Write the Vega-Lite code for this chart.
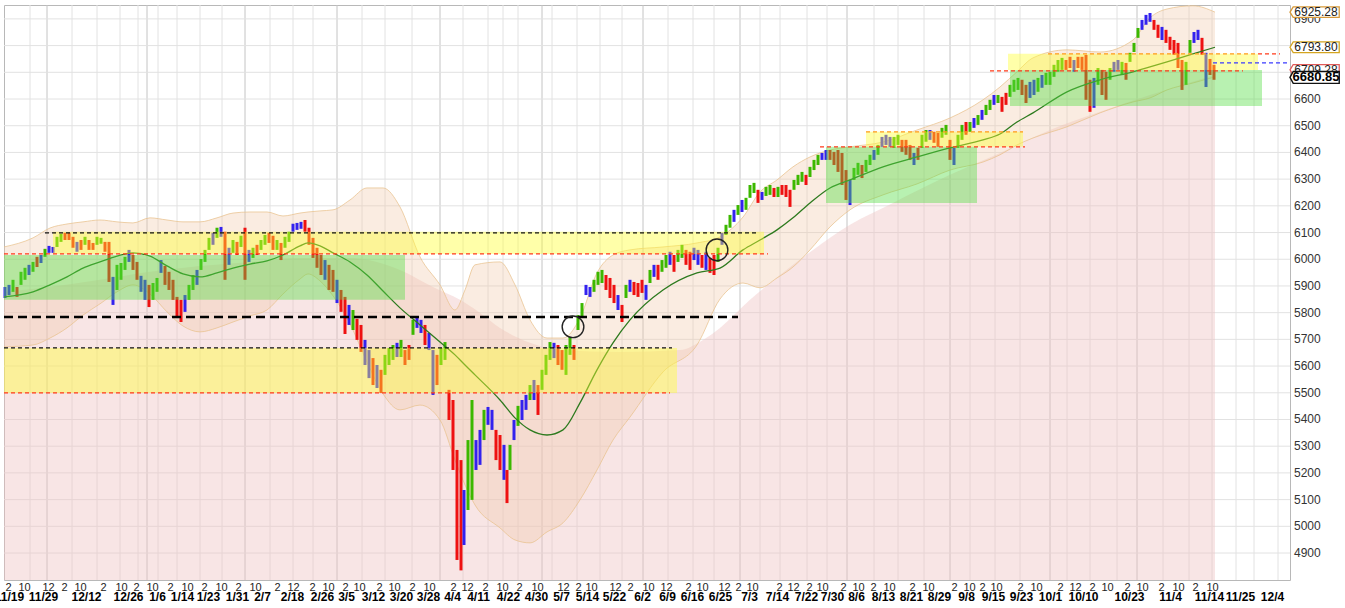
{
  "$schema": "https://vega.github.io/schema/vega-lite/v6.json",
  "width": 1286,
  "height": 575,
  "autosize": {"type": "none"},
  "padding": {"left": 4, "top": 5, "right": 55, "bottom": 28},
  "background": "white",
  "datasets": {
    "grid": [
      {"bar": 30, "m": false}, {"bar": 47, "m": true}, {"bar": 72, "m": false}, {"bar": 97, "m": false},
      {"bar": 120, "m": false}, {"bar": 138, "m": false}, {"bar": 147, "m": true}, {"bar": 158, "m": false},
      {"bar": 177, "m": false}, {"bar": 200, "m": false}, {"bar": 222, "m": false}, {"bar": 245, "m": true},
      {"bar": 270, "m": false}, {"bar": 293, "m": false}, {"bar": 313, "m": false}, {"bar": 337, "m": true},
      {"bar": 362, "m": false}, {"bar": 385, "m": false}, {"bar": 412, "m": false}, {"bar": 440, "m": true},
      {"bar": 463, "m": false}, {"bar": 488, "m": false}, {"bar": 503, "m": false}, {"bar": 518, "m": false},
      {"bar": 542, "m": true}, {"bar": 552, "m": false}, {"bar": 577, "m": false}, {"bar": 600, "m": false},
      {"bar": 622, "m": false}, {"bar": 643, "m": true}, {"bar": 668, "m": false}, {"bar": 693, "m": false},
      {"bar": 714, "m": false}, {"bar": 740, "m": true}, {"bar": 760, "m": false}, {"bar": 780, "m": false},
      {"bar": 807, "m": false}, {"bar": 827, "m": false}, {"bar": 847, "m": true}, {"bar": 874, "m": false},
      {"bar": 898, "m": false}, {"bar": 924, "m": false}, {"bar": 950, "m": true}, {"bar": 970, "m": false},
      {"bar": 995, "m": false}, {"bar": 1020, "m": false}, {"bar": 1050, "m": true}, {"bar": 1067, "m": false},
      {"bar": 1090, "m": false}, {"bar": 1117, "m": false}, {"bar": 1137, "m": true}, {"bar": 1163, "m": false},
      {"bar": 1189, "m": false}, {"bar": 1212, "m": false}, {"bar": 1236, "m": false}, {"bar": 1254, "m": false},
      {"bar": 1278, "m": false}
    ],
    "yticks": [
      {"tick": 4900}, {"tick": 5000}, {"tick": 5100}, {"tick": 5200}, {"tick": 5300}, {"tick": 5400}, {"tick": 5500},
      {"tick": 5600}, {"tick": 5700}, {"tick": 5800}, {"tick": 5900}, {"tick": 6000}, {"tick": 6100}, {"tick": 6200},
      {"tick": 6300}, {"tick": 6400}, {"tick": 6500}, {"tick": 6600}, {"tick": 6700}, {"tick": 6800}, {"tick": 6900}
    ],
    "pink": [
      {"bar": 4, "top": 5878}, {"bar": 50, "top": 5896}, {"bar": 100, "top": 5923}, {"bar": 150, "top": 5953},
      {"bar": 200, "top": 5975}, {"bar": 250, "top": 5990}, {"bar": 300, "top": 6005}, {"bar": 350, "top": 6005},
      {"bar": 400, "top": 5960}, {"bar": 433, "top": 5896}, {"bar": 460, "top": 5848}, {"bar": 480, "top": 5799},
      {"bar": 500, "top": 5743}, {"bar": 530, "top": 5687}, {"bar": 560, "top": 5660}, {"bar": 620, "top": 5653},
      {"bar": 680, "top": 5660}, {"bar": 703, "top": 5698}, {"bar": 720, "top": 5743}, {"bar": 750, "top": 5848},
      {"bar": 780, "top": 5941}, {"bar": 813, "top": 6035}, {"bar": 850, "top": 6129}, {"bar": 893, "top": 6211},
      {"bar": 950, "top": 6316}, {"bar": 1000, "top": 6398}, {"bar": 1050, "top": 6484}, {"bar": 1100, "top": 6552},
      {"bar": 1150, "top": 6615}, {"bar": 1215, "top": 6690}
    ],
    "band": [
      {"bar": 4, "upper": 6046, "ma": 5859, "lower": 5672},
      {"bar": 33, "upper": 6080, "ma": 5878, "lower": 5679},
      {"bar": 50, "upper": 6117, "ma": 5904, "lower": 5705},
      {"bar": 67, "upper": 6132, "ma": 5934, "lower": 5743},
      {"bar": 83, "upper": 6140, "ma": 5967, "lower": 5791},
      {"bar": 100, "upper": 6147, "ma": 5990, "lower": 5833},
      {"bar": 117, "upper": 6140, "ma": 6012, "lower": 5878},
      {"bar": 133, "upper": 6136, "ma": 6024, "lower": 5904},
      {"bar": 150, "upper": 6155, "ma": 6012, "lower": 5870},
      {"bar": 167, "upper": 6147, "ma": 5975, "lower": 5803},
      {"bar": 183, "upper": 6140, "ma": 5945, "lower": 5750},
      {"bar": 200, "upper": 6140, "ma": 5934, "lower": 5728},
      {"bar": 217, "upper": 6155, "ma": 5949, "lower": 5743},
      {"bar": 233, "upper": 6173, "ma": 5967, "lower": 5765},
      {"bar": 250, "upper": 6177, "ma": 5982, "lower": 5788},
      {"bar": 267, "upper": 6177, "ma": 5994, "lower": 5810},
      {"bar": 283, "upper": 6162, "ma": 6016, "lower": 5870},
      {"bar": 300, "upper": 6173, "ma": 6050, "lower": 5926},
      {"bar": 308, "upper": 6177, "ma": 6061, "lower": 5945},
      {"bar": 320, "upper": 6181, "ma": 6050, "lower": 5919},
      {"bar": 333, "upper": 6185, "ma": 6024, "lower": 5863},
      {"bar": 350, "upper": 6222, "ma": 5990, "lower": 5758},
      {"bar": 367, "upper": 6267, "ma": 5941, "lower": 5615},
      {"bar": 383, "upper": 6267, "ma": 5881, "lower": 5496},
      {"bar": 400, "upper": 6196, "ma": 5818, "lower": 5436},
      {"bar": 420, "upper": 6009, "ma": 5754, "lower": 5454},
      {"bar": 440, "upper": 5904, "ma": 5690, "lower": 5398},
      {"bar": 455, "upper": 5810, "ma": 5642, "lower": 5248},
      {"bar": 465, "upper": 5885, "ma": 5604, "lower": 5155},
      {"bar": 475, "upper": 5979, "ma": 5567, "lower": 5080},
      {"bar": 500, "upper": 5990, "ma": 5473, "lower": 4994},
      {"bar": 515, "upper": 5904, "ma": 5406, "lower": 4949},
      {"bar": 530, "upper": 5773, "ma": 5361, "lower": 4938},
      {"bar": 547, "upper": 5705, "ma": 5342, "lower": 4979},
      {"bar": 563, "upper": 5705, "ma": 5361, "lower": 5013},
      {"bar": 580, "upper": 5780, "ma": 5462, "lower": 5099},
      {"bar": 597, "upper": 5949, "ma": 5586, "lower": 5211},
      {"bar": 613, "upper": 6016, "ma": 5687, "lower": 5323},
      {"bar": 630, "upper": 6035, "ma": 5773, "lower": 5409},
      {"bar": 663, "upper": 6046, "ma": 5885, "lower": 5578},
      {"bar": 697, "upper": 6061, "ma": 5949, "lower": 5679},
      {"bar": 720, "upper": 6084, "ma": 5967, "lower": 5851},
      {"bar": 743, "upper": 6158, "ma": 6035, "lower": 5911},
      {"bar": 760, "upper": 6252, "ma": 6072, "lower": 5893},
      {"bar": 777, "upper": 6297, "ma": 6110, "lower": 5930},
      {"bar": 793, "upper": 6346, "ma": 6155, "lower": 5971},
      {"bar": 810, "upper": 6383, "ma": 6211, "lower": 6035},
      {"bar": 830, "upper": 6409, "ma": 6267, "lower": 6121},
      {"bar": 850, "upper": 6421, "ma": 6297, "lower": 6185},
      {"bar": 883, "upper": 6439, "ma": 6346, "lower": 6241},
      {"bar": 917, "upper": 6484, "ma": 6383, "lower": 6282},
      {"bar": 950, "upper": 6529, "ma": 6417, "lower": 6334},
      {"bar": 983, "upper": 6597, "ma": 6447, "lower": 6364},
      {"bar": 1000, "upper": 6645, "ma": 6469, "lower": 6391},
      {"bar": 1017, "upper": 6702, "ma": 6514, "lower": 6428},
      {"bar": 1033, "upper": 6754, "ma": 6548, "lower": 6454},
      {"bar": 1067, "upper": 6784, "ma": 6627, "lower": 6496},
      {"bar": 1100, "upper": 6776, "ma": 6672, "lower": 6548},
      {"bar": 1133, "upper": 6821, "ma": 6702, "lower": 6589},
      {"bar": 1150, "upper": 6904, "ma": 6720, "lower": 6604},
      {"bar": 1167, "upper": 6937, "ma": 6739, "lower": 6634},
      {"bar": 1193, "upper": 6949, "ma": 6769, "lower": 6660},
      {"bar": 1215, "upper": 6925.28, "ma": 6793.8, "lower": 6683}
    ],
    "bars": [
      {"bar": 5, "hi": 5896, "lo": 5855, "c": "b"}, {"bar": 9, "hi": 5904, "lo": 5866, "c": "b"},
      {"bar": 13, "hi": 5923, "lo": 5878, "c": "g"}, {"bar": 17, "hi": 5896, "lo": 5859, "c": "r"},
      {"bar": 21, "hi": 5953, "lo": 5904, "c": "g"}, {"bar": 25, "hi": 5968, "lo": 5923, "c": "g"},
      {"bar": 29, "hi": 5979, "lo": 5941, "c": "b"}, {"bar": 33, "hi": 5990, "lo": 5953, "c": "g"},
      {"bar": 37, "hi": 6009, "lo": 5971, "c": "r"}, {"bar": 41, "hi": 6016, "lo": 5986, "c": "b"},
      {"bar": 45, "hi": 6039, "lo": 6009, "c": "g"}, {"bar": 49, "hi": 6050, "lo": 6024, "c": "b"},
      {"bar": 53, "hi": 6046, "lo": 6024, "c": "b"}, {"bar": 57, "hi": 6084, "lo": 6046, "c": "g"},
      {"bar": 61, "hi": 6095, "lo": 6065, "c": "g"}, {"bar": 65, "hi": 6099, "lo": 6072, "c": "r"},
      {"bar": 69, "hi": 6099, "lo": 6072, "c": "r"}, {"bar": 73, "hi": 6084, "lo": 6043, "c": "r"},
      {"bar": 77, "hi": 6065, "lo": 6028, "c": "b"}, {"bar": 81, "hi": 6072, "lo": 6035, "c": "r"},
      {"bar": 85, "hi": 6084, "lo": 6054, "c": "g"}, {"bar": 89, "hi": 6072, "lo": 6035, "c": "r"},
      {"bar": 93, "hi": 6061, "lo": 6035, "c": "r"}, {"bar": 97, "hi": 6084, "lo": 6054, "c": "g"},
      {"bar": 101, "hi": 6080, "lo": 6058, "c": "g"}, {"bar": 105, "hi": 6065, "lo": 6028, "c": "r"},
      {"bar": 109, "hi": 6065, "lo": 5915, "c": "r"}, {"bar": 113, "hi": 5934, "lo": 5829, "c": "b"},
      {"bar": 117, "hi": 5979, "lo": 5885, "c": "g"}, {"bar": 121, "hi": 5986, "lo": 5923, "c": "g"},
      {"bar": 125, "hi": 6009, "lo": 5960, "c": "g"}, {"bar": 129, "hi": 6035, "lo": 5990, "c": "b"},
      {"bar": 133, "hi": 6016, "lo": 5960, "c": "r"}, {"bar": 137, "hi": 5990, "lo": 5923, "c": "r"},
      {"bar": 141, "hi": 5938, "lo": 5878, "c": "b"}, {"bar": 145, "hi": 5923, "lo": 5848, "c": "b"},
      {"bar": 149, "hi": 5904, "lo": 5821, "c": "r"}, {"bar": 153, "hi": 5911, "lo": 5848, "c": "g"},
      {"bar": 157, "hi": 5930, "lo": 5878, "c": "g"}, {"bar": 161, "hi": 5997, "lo": 5949, "c": "b"},
      {"bar": 165, "hi": 5975, "lo": 5904, "c": "r"}, {"bar": 169, "hi": 5953, "lo": 5885, "c": "r"},
      {"bar": 173, "hi": 5923, "lo": 5848, "c": "r"}, {"bar": 177, "hi": 5859, "lo": 5780, "c": "r"},
      {"bar": 181, "hi": 5848, "lo": 5765, "c": "r"}, {"bar": 185, "hi": 5866, "lo": 5803, "c": "b"},
      {"bar": 189, "hi": 5904, "lo": 5848, "c": "g"}, {"bar": 193, "hi": 5941, "lo": 5885, "c": "g"},
      {"bar": 197, "hi": 5960, "lo": 5904, "c": "b"}, {"bar": 201, "hi": 6001, "lo": 5960, "c": "g"},
      {"bar": 205, "hi": 6035, "lo": 5990, "c": "g"}, {"bar": 209, "hi": 6080, "lo": 6035, "c": "g"},
      {"bar": 213, "hi": 6099, "lo": 6054, "c": "b"}, {"bar": 217, "hi": 6118, "lo": 6080, "c": "g"},
      {"bar": 221, "hi": 6121, "lo": 6084, "c": "b"}, {"bar": 225, "hi": 6103, "lo": 5923, "c": "r"},
      {"bar": 229, "hi": 6043, "lo": 5979, "c": "b"}, {"bar": 233, "hi": 6072, "lo": 6024, "c": "g"},
      {"bar": 237, "hi": 6065, "lo": 6016, "c": "r"}, {"bar": 241, "hi": 6088, "lo": 6046, "c": "g"},
      {"bar": 245, "hi": 6118, "lo": 5923, "c": "r"}, {"bar": 249, "hi": 6035, "lo": 5990, "c": "b"},
      {"bar": 253, "hi": 6043, "lo": 6005, "c": "g"}, {"bar": 257, "hi": 6054, "lo": 6016, "c": "r"},
      {"bar": 261, "hi": 6072, "lo": 6035, "c": "g"}, {"bar": 265, "hi": 6091, "lo": 6054, "c": "g"},
      {"bar": 269, "hi": 6099, "lo": 6061, "c": "r"}, {"bar": 273, "hi": 6088, "lo": 6035, "c": "r"},
      {"bar": 277, "hi": 6072, "lo": 6035, "c": "g"}, {"bar": 281, "hi": 6061, "lo": 5997, "c": "r"},
      {"bar": 285, "hi": 6084, "lo": 6043, "c": "g"}, {"bar": 289, "hi": 6103, "lo": 6065, "c": "g"},
      {"bar": 293, "hi": 6133, "lo": 6103, "c": "b"}, {"bar": 297, "hi": 6136, "lo": 6110, "c": "b"},
      {"bar": 301, "hi": 6140, "lo": 6114, "c": "b"}, {"bar": 305, "hi": 6147, "lo": 6103, "c": "r"},
      {"bar": 309, "hi": 6118, "lo": 6054, "c": "r"}, {"bar": 313, "hi": 6080, "lo": 6005, "c": "r"},
      {"bar": 317, "hi": 6043, "lo": 5968, "c": "r"}, {"bar": 321, "hi": 6016, "lo": 5941, "c": "r"},
      {"bar": 325, "hi": 5997, "lo": 5923, "c": "b"}, {"bar": 329, "hi": 5979, "lo": 5885, "c": "r"},
      {"bar": 333, "hi": 5960, "lo": 5878, "c": "r"}, {"bar": 337, "hi": 5923, "lo": 5836, "c": "b"},
      {"bar": 341, "hi": 5885, "lo": 5803, "c": "r"}, {"bar": 345, "hi": 5859, "lo": 5720, "c": "r"},
      {"bar": 349, "hi": 5829, "lo": 5754, "c": "b"}, {"bar": 353, "hi": 5810, "lo": 5735, "c": "g"},
      {"bar": 357, "hi": 5777, "lo": 5698, "c": "r"}, {"bar": 361, "hi": 5754, "lo": 5653, "c": "r"},
      {"bar": 365, "hi": 5698, "lo": 5604, "c": "b"}, {"bar": 369, "hi": 5660, "lo": 5555, "c": "b"},
      {"bar": 373, "hi": 5630, "lo": 5529, "c": "r"}, {"bar": 377, "hi": 5604, "lo": 5518, "c": "b"},
      {"bar": 381, "hi": 5586, "lo": 5499, "c": "r"}, {"bar": 385, "hi": 5642, "lo": 5567, "c": "g"},
      {"bar": 389, "hi": 5668, "lo": 5604, "c": "g"}, {"bar": 393, "hi": 5679, "lo": 5623, "c": "g"},
      {"bar": 397, "hi": 5687, "lo": 5634, "c": "b"}, {"bar": 401, "hi": 5698, "lo": 5634, "c": "g"},
      {"bar": 405, "hi": 5660, "lo": 5604, "c": "r"}, {"bar": 409, "hi": 5679, "lo": 5623, "c": "r"},
      {"bar": 413, "hi": 5773, "lo": 5717, "c": "g"}, {"bar": 417, "hi": 5784, "lo": 5743, "c": "b"},
      {"bar": 421, "hi": 5773, "lo": 5724, "c": "b"}, {"bar": 425, "hi": 5754, "lo": 5679, "c": "r"},
      {"bar": 429, "hi": 5724, "lo": 5660, "c": "b"}, {"bar": 433, "hi": 5660, "lo": 5492, "c": "b"},
      {"bar": 437, "hi": 5642, "lo": 5529, "c": "r"}, {"bar": 441, "hi": 5668, "lo": 5604, "c": "g"},
      {"bar": 445, "hi": 5690, "lo": 5623, "c": "g"}, {"bar": 449, "hi": 5511, "lo": 5398, "c": "r"},
      {"bar": 453, "hi": 5473, "lo": 5211, "c": "r"}, {"bar": 457, "hi": 5286, "lo": 4874, "c": "r"},
      {"bar": 461, "hi": 5248, "lo": 4835, "c": "r"}, {"bar": 464, "hi": 5136, "lo": 4930, "c": "b"},
      {"bar": 468, "hi": 5323, "lo": 5061, "c": "g"}, {"bar": 472, "hi": 5473, "lo": 5099, "c": "g"},
      {"bar": 476, "hi": 5323, "lo": 5211, "c": "b"}, {"bar": 480, "hi": 5361, "lo": 5230, "c": "b"},
      {"bar": 484, "hi": 5436, "lo": 5323, "c": "g"}, {"bar": 488, "hi": 5447, "lo": 5380, "c": "b"},
      {"bar": 492, "hi": 5436, "lo": 5361, "c": "b"}, {"bar": 496, "hi": 5361, "lo": 5248, "c": "r"},
      {"bar": 500, "hi": 5342, "lo": 5211, "c": "r"}, {"bar": 504, "hi": 5305, "lo": 5174, "c": "b"},
      {"bar": 507, "hi": 5211, "lo": 5087, "c": "r"}, {"bar": 510, "hi": 5305, "lo": 5211, "c": "g"},
      {"bar": 514, "hi": 5398, "lo": 5323, "c": "b"}, {"bar": 518, "hi": 5451, "lo": 5376, "c": "g"},
      {"bar": 522, "hi": 5473, "lo": 5398, "c": "b"}, {"bar": 526, "hi": 5492, "lo": 5436, "c": "b"},
      {"bar": 530, "hi": 5529, "lo": 5473, "c": "g"}, {"bar": 534, "hi": 5548, "lo": 5473, "c": "b"},
      {"bar": 538, "hi": 5529, "lo": 5417, "c": "r"}, {"bar": 542, "hi": 5586, "lo": 5511, "c": "g"},
      {"bar": 546, "hi": 5642, "lo": 5567, "c": "g"}, {"bar": 550, "hi": 5690, "lo": 5623, "c": "g"},
      {"bar": 554, "hi": 5687, "lo": 5630, "c": "b"}, {"bar": 558, "hi": 5679, "lo": 5604, "c": "r"},
      {"bar": 562, "hi": 5660, "lo": 5586, "c": "r"}, {"bar": 566, "hi": 5679, "lo": 5567, "c": "g"},
      {"bar": 570, "hi": 5709, "lo": 5642, "c": "g"}, {"bar": 574, "hi": 5679, "lo": 5623, "c": "r"},
      {"bar": 578, "hi": 5791, "lo": 5735, "c": "g"}, {"bar": 582, "hi": 5836, "lo": 5780, "c": "g"},
      {"bar": 586, "hi": 5904, "lo": 5866, "c": "b"}, {"bar": 590, "hi": 5896, "lo": 5859, "c": "b"},
      {"bar": 594, "hi": 5923, "lo": 5878, "c": "g"}, {"bar": 598, "hi": 5953, "lo": 5904, "c": "g"},
      {"bar": 602, "hi": 5960, "lo": 5911, "c": "g"}, {"bar": 606, "hi": 5941, "lo": 5885, "c": "r"},
      {"bar": 610, "hi": 5930, "lo": 5855, "c": "r"}, {"bar": 614, "hi": 5904, "lo": 5836, "c": "r"},
      {"bar": 618, "hi": 5866, "lo": 5810, "c": "b"}, {"bar": 622, "hi": 5829, "lo": 5765, "c": "r"},
      {"bar": 626, "hi": 5904, "lo": 5855, "c": "g"}, {"bar": 630, "hi": 5923, "lo": 5878, "c": "b"},
      {"bar": 634, "hi": 5915, "lo": 5866, "c": "r"}, {"bar": 638, "hi": 5911, "lo": 5859, "c": "r"},
      {"bar": 642, "hi": 5923, "lo": 5874, "c": "r"}, {"bar": 646, "hi": 5904, "lo": 5848, "c": "b"},
      {"bar": 650, "hi": 5960, "lo": 5911, "c": "g"}, {"bar": 654, "hi": 5979, "lo": 5934, "c": "b"},
      {"bar": 658, "hi": 5979, "lo": 5923, "c": "r"}, {"bar": 662, "hi": 5997, "lo": 5953, "c": "g"},
      {"bar": 666, "hi": 6016, "lo": 5968, "c": "g"}, {"bar": 670, "hi": 6028, "lo": 5979, "c": "b"},
      {"bar": 674, "hi": 6016, "lo": 5953, "c": "r"}, {"bar": 678, "hi": 6035, "lo": 5990, "c": "g"},
      {"bar": 682, "hi": 6054, "lo": 6005, "c": "g"}, {"bar": 686, "hi": 6035, "lo": 5979, "c": "r"},
      {"bar": 690, "hi": 6028, "lo": 5960, "c": "r"}, {"bar": 694, "hi": 6043, "lo": 5997, "c": "b"},
      {"bar": 698, "hi": 6035, "lo": 5979, "c": "b"}, {"bar": 702, "hi": 6016, "lo": 5968, "c": "r"},
      {"bar": 706, "hi": 6028, "lo": 5960, "c": "b"}, {"bar": 710, "hi": 6005, "lo": 5949, "c": "r"},
      {"bar": 714, "hi": 6016, "lo": 5941, "c": "r"}, {"bar": 718, "hi": 6043, "lo": 5990, "c": "g"},
      {"bar": 722, "hi": 6099, "lo": 6054, "c": "b"}, {"bar": 726, "hi": 6129, "lo": 6091, "c": "g"},
      {"bar": 730, "hi": 6166, "lo": 6118, "c": "g"}, {"bar": 734, "hi": 6185, "lo": 6140, "c": "b"},
      {"bar": 738, "hi": 6203, "lo": 6166, "c": "g"}, {"bar": 742, "hi": 6222, "lo": 6177, "c": "b"},
      {"bar": 746, "hi": 6230, "lo": 6185, "c": "g"}, {"bar": 750, "hi": 6278, "lo": 6230, "c": "g"},
      {"bar": 754, "hi": 6286, "lo": 6248, "c": "g"}, {"bar": 758, "hi": 6260, "lo": 6211, "c": "r"},
      {"bar": 762, "hi": 6252, "lo": 6222, "c": "b"}, {"bar": 766, "hi": 6271, "lo": 6237, "c": "g"},
      {"bar": 770, "hi": 6278, "lo": 6241, "c": "g"}, {"bar": 774, "hi": 6267, "lo": 6233, "c": "r"},
      {"bar": 778, "hi": 6271, "lo": 6233, "c": "g"}, {"bar": 782, "hi": 6278, "lo": 6241, "c": "r"},
      {"bar": 786, "hi": 6278, "lo": 6233, "c": "r"}, {"bar": 790, "hi": 6260, "lo": 6196, "c": "r"},
      {"bar": 794, "hi": 6297, "lo": 6260, "c": "g"}, {"bar": 798, "hi": 6316, "lo": 6278, "c": "g"},
      {"bar": 802, "hi": 6327, "lo": 6290, "c": "g"}, {"bar": 806, "hi": 6316, "lo": 6278, "c": "r"},
      {"bar": 810, "hi": 6346, "lo": 6308, "c": "g"}, {"bar": 814, "hi": 6372, "lo": 6334, "c": "g"},
      {"bar": 818, "hi": 6391, "lo": 6353, "c": "g"}, {"bar": 822, "hi": 6398, "lo": 6372, "c": "b"},
      {"bar": 826, "hi": 6409, "lo": 6372, "c": "b"}, {"bar": 830, "hi": 6409, "lo": 6372, "c": "r"},
      {"bar": 834, "hi": 6402, "lo": 6353, "c": "r"}, {"bar": 838, "hi": 6409, "lo": 6327, "c": "r"},
      {"bar": 842, "hi": 6398, "lo": 6278, "c": "r"}, {"bar": 846, "hi": 6334, "lo": 6222, "c": "r"},
      {"bar": 850, "hi": 6297, "lo": 6203, "c": "b"}, {"bar": 854, "hi": 6342, "lo": 6297, "c": "g"},
      {"bar": 858, "hi": 6361, "lo": 6316, "c": "g"}, {"bar": 862, "hi": 6353, "lo": 6304, "c": "r"},
      {"bar": 866, "hi": 6372, "lo": 6327, "c": "g"}, {"bar": 870, "hi": 6391, "lo": 6353, "c": "g"},
      {"bar": 874, "hi": 6409, "lo": 6372, "c": "b"}, {"bar": 878, "hi": 6428, "lo": 6391, "c": "g"},
      {"bar": 882, "hi": 6458, "lo": 6421, "c": "b"}, {"bar": 886, "hi": 6466, "lo": 6428, "c": "b"},
      {"bar": 890, "hi": 6458, "lo": 6421, "c": "b"}, {"bar": 894, "hi": 6458, "lo": 6417, "c": "g"},
      {"bar": 898, "hi": 6466, "lo": 6428, "c": "g"}, {"bar": 902, "hi": 6447, "lo": 6402, "c": "r"},
      {"bar": 906, "hi": 6447, "lo": 6391, "c": "r"}, {"bar": 910, "hi": 6428, "lo": 6372, "c": "r"},
      {"bar": 914, "hi": 6398, "lo": 6353, "c": "b"}, {"bar": 918, "hi": 6417, "lo": 6372, "c": "r"},
      {"bar": 922, "hi": 6466, "lo": 6417, "c": "g"}, {"bar": 926, "hi": 6484, "lo": 6440, "c": "g"},
      {"bar": 930, "hi": 6484, "lo": 6447, "c": "b"}, {"bar": 934, "hi": 6477, "lo": 6436, "c": "r"},
      {"bar": 938, "hi": 6473, "lo": 6421, "c": "r"}, {"bar": 942, "hi": 6492, "lo": 6455, "c": "g"},
      {"bar": 946, "hi": 6503, "lo": 6466, "c": "g"}, {"bar": 950, "hi": 6447, "lo": 6372, "c": "r"},
      {"bar": 954, "hi": 6417, "lo": 6353, "c": "b"}, {"bar": 958, "hi": 6466, "lo": 6417, "c": "g"},
      {"bar": 962, "hi": 6503, "lo": 6447, "c": "g"}, {"bar": 966, "hi": 6514, "lo": 6466, "c": "r"},
      {"bar": 970, "hi": 6514, "lo": 6477, "c": "g"}, {"bar": 974, "hi": 6529, "lo": 6492, "c": "b"},
      {"bar": 978, "hi": 6540, "lo": 6503, "c": "g"}, {"bar": 982, "hi": 6559, "lo": 6522, "c": "b"},
      {"bar": 986, "hi": 6578, "lo": 6540, "c": "g"}, {"bar": 990, "hi": 6597, "lo": 6559, "c": "g"},
      {"bar": 994, "hi": 6615, "lo": 6578, "c": "b"}, {"bar": 998, "hi": 6615, "lo": 6585, "c": "g"},
      {"bar": 1002, "hi": 6608, "lo": 6552, "c": "r"}, {"bar": 1006, "hi": 6623, "lo": 6578, "c": "r"},
      {"bar": 1010, "hi": 6653, "lo": 6608, "c": "g"}, {"bar": 1014, "hi": 6672, "lo": 6627, "c": "g"},
      {"bar": 1018, "hi": 6679, "lo": 6634, "c": "g"}, {"bar": 1022, "hi": 6672, "lo": 6615, "c": "r"},
      {"bar": 1026, "hi": 6653, "lo": 6585, "c": "r"}, {"bar": 1030, "hi": 6664, "lo": 6604, "c": "b"},
      {"bar": 1034, "hi": 6672, "lo": 6615, "c": "b"}, {"bar": 1038, "hi": 6679, "lo": 6627, "c": "g"},
      {"bar": 1042, "hi": 6690, "lo": 6642, "c": "b"}, {"bar": 1046, "hi": 6698, "lo": 6653, "c": "g"},
      {"bar": 1050, "hi": 6702, "lo": 6653, "c": "g"}, {"bar": 1054, "hi": 6728, "lo": 6683, "c": "g"},
      {"bar": 1058, "hi": 6746, "lo": 6702, "c": "g"}, {"bar": 1062, "hi": 6754, "lo": 6709, "c": "g"},
      {"bar": 1066, "hi": 6746, "lo": 6709, "c": "r"}, {"bar": 1070, "hi": 6758, "lo": 6716, "c": "r"},
      {"bar": 1074, "hi": 6746, "lo": 6702, "c": "b"}, {"bar": 1078, "hi": 6758, "lo": 6716, "c": "r"},
      {"bar": 1082, "hi": 6758, "lo": 6709, "c": "r"}, {"bar": 1086, "hi": 6765, "lo": 6597, "c": "r"},
      {"bar": 1090, "hi": 6672, "lo": 6552, "c": "r"}, {"bar": 1094, "hi": 6679, "lo": 6567, "c": "b"},
      {"bar": 1098, "hi": 6716, "lo": 6653, "c": "g"}, {"bar": 1102, "hi": 6709, "lo": 6615, "c": "r"},
      {"bar": 1106, "hi": 6702, "lo": 6597, "c": "r"}, {"bar": 1110, "hi": 6716, "lo": 6672, "c": "g"},
      {"bar": 1114, "hi": 6739, "lo": 6702, "c": "b"}, {"bar": 1118, "hi": 6746, "lo": 6709, "c": "b"},
      {"bar": 1122, "hi": 6739, "lo": 6690, "c": "g"}, {"bar": 1126, "hi": 6735, "lo": 6672, "c": "r"},
      {"bar": 1130, "hi": 6773, "lo": 6739, "c": "g"}, {"bar": 1134, "hi": 6810, "lo": 6776, "c": "g"},
      {"bar": 1138, "hi": 6866, "lo": 6829, "c": "g"}, {"bar": 1142, "hi": 6896, "lo": 6859, "c": "b"},
      {"bar": 1146, "hi": 6915, "lo": 6878, "c": "b"}, {"bar": 1150, "hi": 6922, "lo": 6889, "c": "b"},
      {"bar": 1154, "hi": 6896, "lo": 6859, "c": "r"}, {"bar": 1158, "hi": 6878, "lo": 6829, "c": "r"},
      {"bar": 1162, "hi": 6870, "lo": 6821, "c": "b"}, {"bar": 1166, "hi": 6859, "lo": 6810, "c": "r"},
      {"bar": 1170, "hi": 6833, "lo": 6784, "c": "r"}, {"bar": 1174, "hi": 6821, "lo": 6765, "c": "r"},
      {"bar": 1178, "hi": 6810, "lo": 6716, "c": "r"}, {"bar": 1182, "hi": 6746, "lo": 6634, "c": "r"},
      {"bar": 1186, "hi": 6739, "lo": 6653, "c": "g"}, {"bar": 1190, "hi": 6821, "lo": 6773, "c": "g"},
      {"bar": 1194, "hi": 6851, "lo": 6810, "c": "b"}, {"bar": 1198, "hi": 6859, "lo": 6821, "c": "b"},
      {"bar": 1202, "hi": 6829, "lo": 6765, "c": "r"}, {"bar": 1206, "hi": 6773, "lo": 6645, "c": "b"},
      {"bar": 1210, "hi": 6750, "lo": 6690, "c": "r"}, {"bar": 1214, "hi": 6728, "lo": 6672, "c": "r"}
    ],
    "zones": [
      {"x0": 53, "x1": 764, "top": 6103, "bot": 6020, "kind": "yellow"},
      {"x0": 4, "x1": 405, "top": 6016, "bot": 5848, "kind": "green"},
      {"x0": 4, "x1": 677, "top": 5668, "bot": 5499, "kind": "yellow"},
      {"x0": 826, "x1": 977, "top": 6421, "bot": 6211, "kind": "green"},
      {"x0": 866, "x1": 1023, "top": 6477, "bot": 6421, "kind": "yellow"},
      {"x0": 1010, "x1": 1262, "top": 6709, "bot": 6574, "kind": "green"},
      {"x0": 1008, "x1": 1258, "top": 6769, "bot": 6709, "kind": "yellow"}
    ],
    "levels": [
      {"v": 5784, "x0": 4, "x1": 738, "style": "thick"},
      {"v": 6099, "x0": 45, "x1": 757, "style": "black"},
      {"v": 5668, "x0": 4, "x1": 672, "style": "black"},
      {"v": 6020, "x0": 4, "x1": 768, "style": "red"},
      {"v": 5500, "x0": 4, "x1": 670, "style": "red"},
      {"v": 6421, "x0": 820, "x1": 1025, "style": "red"},
      {"v": 6705, "x0": 990, "x1": 1243, "style": "red"},
      {"v": 6769, "x0": 1258, "x1": 1280, "style": "red"},
      {"v": 6477, "x0": 866, "x1": 1023, "style": "orange"},
      {"v": 6769, "x0": 1048, "x1": 1258, "style": "orange"},
      {"v": 6735, "x0": 1213, "x1": 1290, "style": "blue"}
    ],
    "rings": [
      {"bar": 573, "v": 5747},
      {"bar": 717, "v": 6035}
    ],
    "tags": [
      {"v": 6925.28, "label": "6925.28", "last": false},
      {"v": 6793.8, "label": "6793.80", "last": false},
      {"v": 6709.28, "label": "6709.28", "last": false},
      {"v": 6680.85, "label": "6680.85", "last": true}
    ]
  },
  "resolve": {"scale": {"color": "independent", "stroke": "independent"}, "axis": {"x": "independent"}},
  "layer": [
    {
      "data": {"name": "grid"},
      "mark": {"type": "rule", "strokeWidth": 1},
      "encoding": {
        "x": {
          "field": "bar", "type": "quantitative",
          "scale": {"domain": [4, 1290], "nice": false, "zero": false},
          "axis": {
            "orient": "bottom", "title": null, "grid": false, "ticks": false, "tickSize": 0, "domain": false,
            "labelPadding": 1, "labelFontSize": 11, "labelFont": "Liberation Sans", "labelColor": "#222",
            "labelOverlap": false, "labelFlush": false, "labelBound": false,
            "values": [8, 24, 48, 64, 80, 103, 121, 136, 152, 170, 187, 204, 221, 238, 255, 277, 293, 312, 328, 345, 359, 379, 394, 412, 429, 453, 467, 485, 502, 519, 537, 563, 578, 591, 615, 630, 648, 666, 688, 702, 724, 738, 752, 779, 793, 809, 822, 843, 858, 873, 889, 912, 928, 954, 969, 982, 996, 1020, 1036, 1060, 1075, 1092, 1107, 1127, 1142, 1161, 1178, 1195, 1212],
            "labelExpr": "['2','10','12','2','10','2','10','2','10','2','10','2','10','2','10','2','12','2','10','2','10','2','10','2','10','2','12','2','10','2','10','12','2','10','12','2','10','12','2','10','12','2','10','2','12','2','10','2','10','2','10','2','10','2','10','2','10','2','10','2','12','2','10','2','10','2','10','2','10'][indexof([8, 24, 48, 64, 80, 103, 121, 136, 152, 170, 187, 204, 221, 238, 255, 277, 293, 312, 328, 345, 359, 379, 394, 412, 429, 453, 467, 485, 502, 519, 537, 563, 578, 591, 615, 630, 648, 666, 688, 702, 724, 738, 752, 779, 793, 809, 822, 843, 858, 873, 889, 912, 928, 954, 969, 982, 996, 1020, 1036, 1060, 1075, 1092, 1107, 1127, 1142, 1161, 1178, 1195, 1212], datum.value)]"
          }
        },
        "color": {"condition": {"test": "datum.m", "value": "#c4c4c4"}, "value": "#e2e2e2"}
      }
    },
    {
      "data": {"name": "yticks"},
      "mark": {"type": "rule", "color": "#e2e2e2", "strokeWidth": 1},
      "encoding": {
        "y": {"field": "tick", "type": "quantitative", "title": null, "axis": null, "scale": {"domain": [4799, 6952], "nice": false, "zero": false}}
      }
    },
    {
      "data": {"name": "pink"},
      "mark": {"type": "area", "color": "#eec0c0", "opacity": 0.42, "interpolate": "monotone"},
      "encoding": {
        "x": {"field": "bar", "type": "quantitative", "scale": {"domain": [4, 1290], "nice": false, "zero": false}, "axis": null},
        "y": {"field": "top", "type": "quantitative", "title": null, "axis": null, "scale": {"domain": [4799, 6952], "nice": false, "zero": false}},
        "y2": {"datum": 4799}
      }
    },
    {
      "data": {"name": "band"},
      "mark": {"type": "area", "color": "#f2c8a8", "opacity": 0.35, "interpolate": "monotone"},
      "encoding": {
        "x": {"field": "bar", "type": "quantitative", "scale": {"domain": [4, 1290], "nice": false, "zero": false}, "axis": null},
        "y": {"field": "upper", "type": "quantitative", "title": null, "axis": null, "scale": {"domain": [4799, 6952], "nice": false, "zero": false}},
        "y2": {"field": "lower"}
      }
    },
    {
      "data": {"name": "band"},
      "mark": {"type": "line", "color": "#e8c28e", "strokeWidth": 1, "opacity": 0.75, "interpolate": "monotone"},
      "encoding": {
        "x": {"field": "bar", "type": "quantitative", "scale": {"domain": [4, 1290], "nice": false, "zero": false}, "axis": null},
        "y": {"field": "upper", "type": "quantitative", "title": null, "axis": null, "scale": {"domain": [4799, 6952], "nice": false, "zero": false}}
      }
    },
    {
      "data": {"name": "band"},
      "mark": {"type": "line", "color": "#e8c28e", "strokeWidth": 1, "opacity": 0.75, "interpolate": "monotone"},
      "encoding": {
        "x": {"field": "bar", "type": "quantitative", "scale": {"domain": [4, 1290], "nice": false, "zero": false}, "axis": null},
        "y": {"field": "lower", "type": "quantitative", "title": null, "axis": null, "scale": {"domain": [4799, 6952], "nice": false, "zero": false}}
      }
    },
    {
      "data": {"name": "bars"},
      "mark": {"type": "rule", "strokeWidth": 3},
      "encoding": {
        "x": {
          "field": "bar", "type": "quantitative",
          "scale": {"domain": [4, 1290], "nice": false, "zero": false},
          "axis": {
            "orient": "bottom", "title": null, "grid": false, "ticks": false, "tickSize": 0, "domain": false,
            "labelPadding": 11, "labelFontSize": 12, "labelFontWeight": "bold",
            "labelFont": "Liberation Sans Narrow, Liberation Sans", "labelColor": "#000",
            "labelOverlap": false, "labelFlush": false, "labelBound": false,
            "values": [9, 43, 86, 128, 157, 182, 208, 237, 262, 292, 322, 346, 373, 401, 428, 452, 478, 508, 536, 561, 587, 614, 642, 667, 692, 720, 749, 777, 806, 832, 856, 883, 911, 939, 966, 993, 1021, 1050, 1083, 1129, 1170, 1209, 1240, 1272],
            "labelExpr": "['11/19','11/29','12/12','12/26','1/6','1/14','1/23','1/31','2/7','2/18','2/26','3/5','3/12','3/20','3/28','4/4','4/11','4/22','4/30','5/7','5/14','5/22','6/2','6/9','6/16','6/25','7/3','7/14','7/22','7/30','8/6','8/13','8/21','8/29','9/8','9/15','9/23','10/1','10/10','10/23','11/4','11/14','11/25','12/4'][indexof([9, 43, 86, 128, 157, 182, 208, 237, 262, 292, 322, 346, 373, 401, 428, 452, 478, 508, 536, 561, 587, 614, 642, 667, 692, 720, 749, 777, 806, 832, 856, 883, 911, 939, 966, 993, 1021, 1050, 1083, 1129, 1170, 1209, 1240, 1272], datum.value)]"
          }
        },
        "y": {"field": "hi", "type": "quantitative", "title": null, "axis": null, "scale": {"domain": [4799, 6952], "nice": false, "zero": false}},
        "y2": {"field": "lo"},
        "color": {"field": "c", "type": "nominal", "scale": {"domain": ["g", "r", "b"], "range": ["#3cb800", "#ee1111", "#3322ee"]}, "legend": null}
      }
    },
    {
      "data": {"name": "band"},
      "mark": {"type": "line", "color": "#2d7a1e", "strokeWidth": 1.3, "interpolate": "monotone"},
      "encoding": {
        "x": {"field": "bar", "type": "quantitative", "scale": {"domain": [4, 1290], "nice": false, "zero": false}, "axis": null},
        "y": {"field": "ma", "type": "quantitative", "title": null, "axis": null, "scale": {"domain": [4799, 6952], "nice": false, "zero": false}}
      }
    },
    {
      "data": {"name": "zones"},
      "mark": {"type": "rect", "opacity": 0.42},
      "encoding": {
        "x": {"field": "x0", "type": "quantitative", "scale": {"domain": [4, 1290], "nice": false, "zero": false}, "axis": null},
        "x2": {"field": "x1"},
        "y": {"field": "top", "type": "quantitative", "title": null, "axis": null, "scale": {"domain": [4799, 6952], "nice": false, "zero": false}},
        "y2": {"field": "bot"},
        "color": {"field": "kind", "type": "nominal", "scale": {"domain": ["green", "yellow"], "range": ["#55dd44", "#ffff33"]}, "legend": null}
      }
    },
    {
      "data": {"name": "levels"},
      "transform": [{"filter": "datum.style == 'thick'"}],
      "mark": {"type": "rule", "color": "#000000", "strokeWidth": 2.6, "strokeDash": [9, 5]},
      "encoding": {
        "x": {"field": "x0", "type": "quantitative", "scale": {"domain": [4, 1290], "nice": false, "zero": false}, "axis": null},
        "x2": {"field": "x1"},
        "y": {"field": "v", "type": "quantitative", "title": null, "axis": null, "scale": {"domain": [4799, 6952], "nice": false, "zero": false}}
      }
    },
    {
      "data": {"name": "levels"},
      "transform": [{"filter": "datum.style == 'black'"}],
      "mark": {"type": "rule", "color": "#111111", "strokeWidth": 1.3, "strokeDash": [4, 3]},
      "encoding": {
        "x": {"field": "x0", "type": "quantitative", "scale": {"domain": [4, 1290], "nice": false, "zero": false}, "axis": null},
        "x2": {"field": "x1"},
        "y": {"field": "v", "type": "quantitative", "title": null, "axis": null, "scale": {"domain": [4799, 6952], "nice": false, "zero": false}}
      }
    },
    {
      "data": {"name": "levels"},
      "transform": [{"filter": "datum.style == 'red'"}],
      "mark": {"type": "rule", "color": "#ff3a1a", "strokeWidth": 1.2, "strokeDash": [4, 3]},
      "encoding": {
        "x": {"field": "x0", "type": "quantitative", "scale": {"domain": [4, 1290], "nice": false, "zero": false}, "axis": null},
        "x2": {"field": "x1"},
        "y": {"field": "v", "type": "quantitative", "title": null, "axis": null, "scale": {"domain": [4799, 6952], "nice": false, "zero": false}}
      }
    },
    {
      "data": {"name": "levels"},
      "transform": [{"filter": "datum.style == 'orange'"}],
      "mark": {"type": "rule", "color": "#ff9a1a", "strokeWidth": 1.2, "strokeDash": [4, 3]},
      "encoding": {
        "x": {"field": "x0", "type": "quantitative", "scale": {"domain": [4, 1290], "nice": false, "zero": false}, "axis": null},
        "x2": {"field": "x1"},
        "y": {"field": "v", "type": "quantitative", "title": null, "axis": null, "scale": {"domain": [4799, 6952], "nice": false, "zero": false}}
      }
    },
    {
      "data": {"name": "levels"},
      "transform": [{"filter": "datum.style == 'blue'"}],
      "mark": {"type": "rule", "color": "#3b3bff", "strokeWidth": 1.2, "strokeDash": [4, 3]},
      "encoding": {
        "x": {"field": "x0", "type": "quantitative", "scale": {"domain": [4, 1290], "nice": false, "zero": false}, "axis": null},
        "x2": {"field": "x1"},
        "y": {"field": "v", "type": "quantitative", "title": null, "axis": null, "scale": {"domain": [4799, 6952], "nice": false, "zero": false}}
      }
    },
    {
      "data": {"name": "rings"},
      "mark": {"type": "point", "shape": "circle", "filled": false, "size": 470, "color": "#222222", "strokeWidth": 1.4, "opacity": 1},
      "encoding": {
        "x": {"field": "bar", "type": "quantitative", "scale": {"domain": [4, 1290], "nice": false, "zero": false}, "axis": null},
        "y": {"field": "v", "type": "quantitative", "title": null, "axis": null, "scale": {"domain": [4799, 6952], "nice": false, "zero": false}}
      }
    },
    {
      "data": {"name": "yticks"},
      "transform": [{"filter": "datum.tick != 6700 && datum.tick != 6800"}],
      "mark": {"type": "text", "dx": 4, "align": "left", "baseline": "middle", "fontSize": 12, "font": "Liberation Sans", "color": "#333333"},
      "encoding": {
        "x": {"datum": 1290, "type": "quantitative", "scale": {"domain": [4, 1290], "nice": false, "zero": false}, "axis": null},
        "y": {"field": "tick", "type": "quantitative", "title": null, "axis": null, "scale": {"domain": [4799, 6952], "nice": false, "zero": false}},
        "text": {"field": "tick", "type": "quantitative", "format": "d"}
      }
    },
    {
      "data": {"name": "tags"},
      "transform": [{"filter": "!datum.last"}],
      "mark": {"type": "point", "shape": "M0,0 L0.14,-0.23 L2.14,-0.23 L2.14,0.23 L0.14,0.23 Z", "size": 2116, "filled": true, "fill": "white", "strokeWidth": 1.3, "opacity": 1},
      "encoding": {
        "x": {"datum": 1290, "type": "quantitative", "scale": {"domain": [4, 1290], "nice": false, "zero": false}, "axis": null},
        "y": {"field": "v", "type": "quantitative", "title": null, "axis": null, "scale": {"domain": [4799, 6952], "nice": false, "zero": false}},
        "stroke": {"field": "label", "type": "nominal", "scale": {"domain": ["6925.28", "6793.80", "6709.28"], "range": ["#d89a3a", "#d4a520", "#e05a5a"]}, "legend": null}
      }
    },
    {
      "data": {"name": "tags"},
      "transform": [{"filter": "!datum.last"}],
      "mark": {"type": "text", "dx": 26, "align": "center", "baseline": "middle", "fontSize": 12, "font": "Liberation Sans", "color": "#222222"},
      "encoding": {
        "x": {"datum": 1290, "type": "quantitative", "scale": {"domain": [4, 1290], "nice": false, "zero": false}, "axis": null},
        "y": {"field": "v", "type": "quantitative", "title": null, "axis": null, "scale": {"domain": [4799, 6952], "nice": false, "zero": false}},
        "text": {"field": "label"}
      }
    },
    {
      "data": {"name": "tags"},
      "transform": [{"filter": "datum.last"}],
      "mark": {"type": "point", "shape": "M0,0 L0.14,-0.26 L2.14,-0.26 L2.14,0.26 L0.14,0.26 Z", "size": 2116, "filled": true, "fill": "white", "stroke": "#111111", "strokeWidth": 1.4, "opacity": 1},
      "encoding": {
        "x": {"datum": 1290, "type": "quantitative", "scale": {"domain": [4, 1290], "nice": false, "zero": false}, "axis": null},
        "y": {"field": "v", "type": "quantitative", "title": null, "axis": null, "scale": {"domain": [4799, 6952], "nice": false, "zero": false}}
      }
    },
    {
      "data": {"name": "tags"},
      "transform": [{"filter": "datum.last"}],
      "mark": {"type": "text", "dx": 26, "align": "center", "baseline": "middle", "fontSize": 13, "fontWeight": "bold", "font": "Liberation Sans", "color": "#000000"},
      "encoding": {
        "x": {"datum": 1290, "type": "quantitative", "scale": {"domain": [4, 1290], "nice": false, "zero": false}, "axis": null},
        "y": {"field": "v", "type": "quantitative", "title": null, "axis": null, "scale": {"domain": [4799, 6952], "nice": false, "zero": false}},
        "text": {"field": "label"}
      }
    }
  ],
  "config": {
    "view": {"stroke": "#b8b8b8"}
  }
}
